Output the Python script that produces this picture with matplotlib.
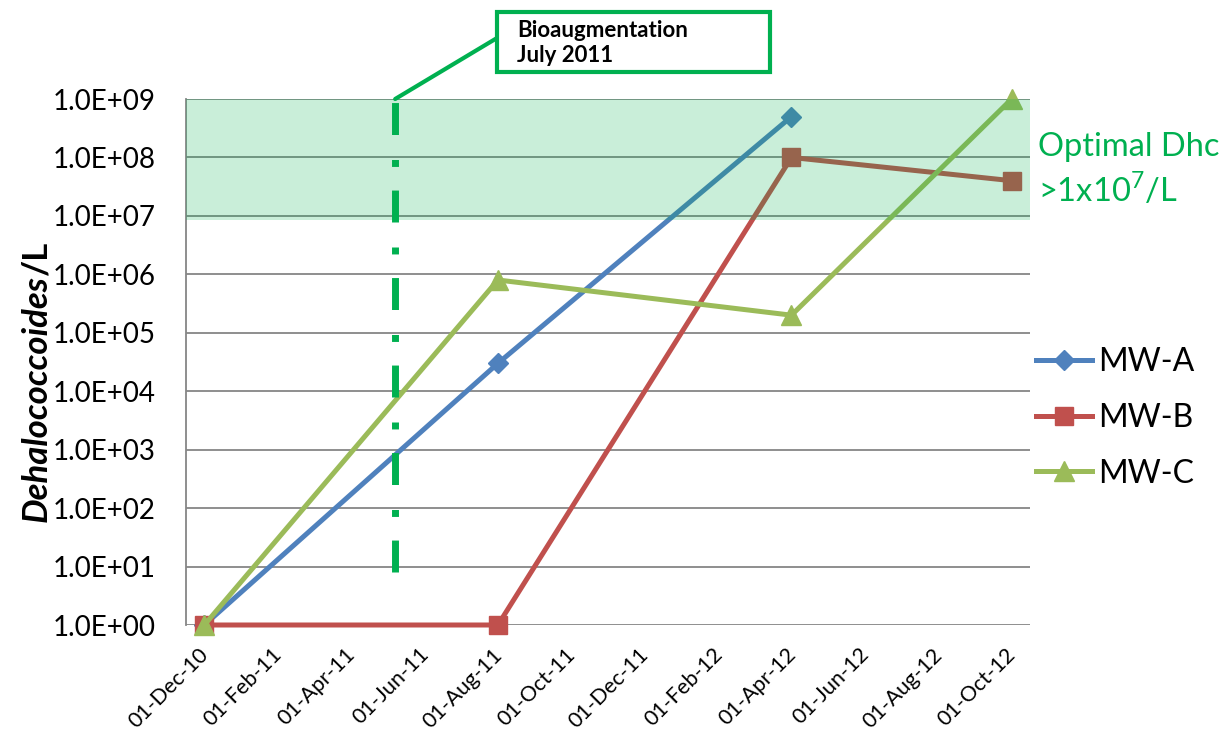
import matplotlib
matplotlib.use("Agg")
import matplotlib.pyplot as plt
from matplotlib.patches import Rectangle, ConnectionPatch
import matplotlib.transforms as mtransforms

plt.rcParams['font.family'] = ['Lato', 'DejaVu Sans']
plt.rcParams['mathtext.fontset'] = 'custom'
plt.rcParams['mathtext.rm'] = 'Lato'

# ---------------- data ----------------
month_labels = ['01-Dec-10', '01-Feb-11', '01-Apr-11', '01-Jun-11', '01-Aug-11', '01-Oct-11',
                '01-Dec-11', '01-Feb-12', '01-Apr-12', '01-Jun-12', '01-Aug-12', '01-Oct-12']
start = (2010, 12)

mwa_dates = [(2010, 12), (2011, 8), (2012, 4)]
mwa_vals = [1.0, 3.0e4, 5.0e8]
mwb_dates = [(2010, 12), (2011, 8), (2012, 4), (2012, 10)]
mwb_vals = [1.0, 1.0, 1.0e8, 4.0e7]
mwc_dates = [(2010, 12), (2011, 8), (2012, 4), (2012, 10)]
mwc_vals = [1.0, 8.0e5, 2.0e5, 1.0e9]

bio_month = 5.2          # months after Dec 2010 where the marker line sits
bio_range = [8.0, 1.0e9]
optimal_range = [8.5e6, 1.0e9]

def midx(d):
    return (d[0] - start[0]) * 12 + (d[1] - start[1])

# ---------------- figure ----------------
fig = plt.figure(figsize=(12.24, 7.39), dpi=100)
ax = fig.add_axes([186/1224, 1-625/739, (1030-186)/1224, (625-99)/739])

blue, red, green = '#4F81BD', '#C0504D', '#9BBB59'
lw = 3.6
ax.plot([midx(d) for d in mwa_dates], mwa_vals, color=blue, lw=lw, marker='D', ms=10,
        label='MW-A', zorder=3, clip_on=False)
ax.plot([midx(d) for d in mwb_dates], mwb_vals, color=red, lw=lw, marker='s', ms=13,
        label='MW-B', zorder=3, clip_on=False)
ax.plot([midx(d) for d in mwc_dates], mwc_vals, color=green, lw=lw, marker='^', ms=14,
        label='MW-C', zorder=3, clip_on=False)

ax.set_yscale('log')
ax.set_ylim(1, 1e9)
ax.set_xlim(-0.5, 22.5)

# optimal band (semi-transparent, over the lines)
ax.axhspan(optimal_range[0], optimal_range[1], facecolor='#00B050', alpha=0.21, lw=0, zorder=4)

# bioaugmentation line
ax.plot([bio_month, bio_month], bio_range, color='#00B050', lw=5, solid_capstyle='butt',
        dashes=(4.6, 3.4, 1.0, 3.6), dash_capstyle='butt', zorder=5, clip_on=False)

ticks = list(range(0, 23, 2))
ax.set_xticks(ticks)
ax.set_xticklabels(month_labels, rotation=45, ha='right', rotation_mode='anchor', fontsize=15.5)
ax.set_yticks([10.0**k for k in range(10)])
ax.set_yticklabels(['1.0E+%02d' % k for k in range(10)], fontsize=20)
ax.minorticks_off()
ax.tick_params(axis='y', length=0, pad=22)
ax.tick_params(axis='x', length=0, pad=14)
shift = mtransforms.ScaledTranslation(-6/100, 0, fig.dpi_scale_trans)
for lab in ax.get_xticklabels():
    lab.set_transform(lab.get_transform() + shift)

ax.grid(axis='y', color='#868686', lw=1.3)
ax.set_axisbelow(True)
for s in ['top', 'right', 'bottom']:
    ax.spines[s].set_visible(False)
ax.spines['left'].set_color('#868686')
ax.spines['left'].set_linewidth(1.3)

# annotation box
box = Rectangle((497/1224, 1-72/739), (770-497)/1224, 60/739, transform=fig.transFigure,
                facecolor='white', edgecolor='#00B050', lw=3, zorder=6)
fig.patches.append(box)
fig.text(517/1224, 1-43/739, 'Bioaugmentation\nJuly 2011', fontsize=16, fontweight='bold',
         va='center', ha='left', linespacing=1.2, zorder=7)
con = ConnectionPatch(xyA=(bio_month, bio_range[1]), coordsA=ax.transData,
                      xyB=(497/1224, 1-38/739), coordsB=fig.transFigure,
                      color='#00B050', lw=3, zorder=6)
fig.add_artist(con)

# optimal text
fig.text(1038/1224, 1-147/739, 'Optimal Dhc', color='#00B050', fontsize=23.5, va='center', ha='left')
fig.text(1038/1224, 1-190/739, r'>1x10$^{7}$/L', color='#00B050', fontsize=23.5, va='center', ha='left')

# legend
leg = fig.legend(loc='center left', bbox_to_anchor=(1036/1224, 1-418/739), frameon=False,
                 fontsize=23, handlelength=1.75, handletextpad=0.2, labelspacing=0.8,
                 borderpad=0, borderaxespad=0)

# y label: bold italic species + upright "/L"
t1 = fig.text(0.030, 1-522/739, 'Dehalococcoides', rotation=90, fontsize=25, fontweight='bold',
              fontstyle='italic', ha='center', va='bottom')
fig.canvas.draw()
bb = t1.get_window_extent(fig.canvas.get_renderer())
fig.text(0.030, bb.y1/fig.bbox.height, '/L', rotation=90, fontsize=25, fontweight='bold',
         ha='center', va='bottom')

fig.savefig('out.png', dpi=100)
